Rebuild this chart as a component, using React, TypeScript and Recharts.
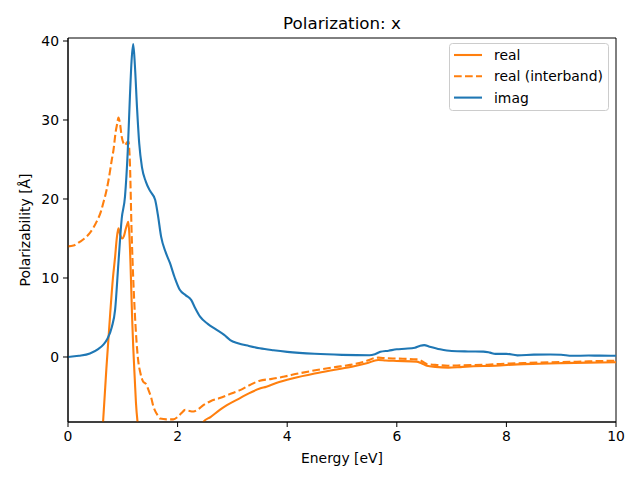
import React from 'react';
import { LineChart, Line, XAxis, YAxis, Legend, ReferenceArea, Label } from 'recharts';

const imagE = [0, 0.2, 0.4, 0.55, 0.65, 0.72, 0.8, 0.86, 0.92, 0.98, 1.04, 1.09, 1.13, 1.16, 1.19, 1.22, 1.26, 1.3, 1.35, 1.42, 1.5, 1.59, 1.64, 1.7, 1.78, 1.86, 1.95, 2.04, 2.15, 2.25, 2.32, 2.41, 2.55, 2.7, 2.85, 2.96, 3.1, 3.3, 3.5, 3.75, 4.0, 4.5, 5.0, 5.5, 5.6, 5.7, 5.85, 6.0, 6.15, 6.33, 6.42, 6.5, 6.6, 6.79, 7.0, 7.3, 7.58, 7.7, 7.8, 8.0, 8.2, 8.5, 8.8, 9.0, 9.2, 9.5, 9.7, 10];
const imagV = [0, 0.15, 0.45, 1.0, 1.6, 2.3, 3.8, 6.0, 11.9, 17.5, 20.3, 26, 33, 37.5, 39.6, 37, 31.5, 27, 24, 22.2, 21, 19.9, 18, 15.2, 13.3, 11.9, 10, 8.5, 7.8, 7.2, 6.2, 5.1, 4.2, 3.5, 2.8, 2.15, 1.75, 1.4, 1.1, 0.85, 0.65, 0.4, 0.27, 0.22, 0.35, 0.65, 0.8, 0.97, 1.05, 1.18, 1.4, 1.5, 1.3, 0.97, 0.75, 0.7, 0.68, 0.55, 0.4, 0.4, 0.21, 0.3, 0.32, 0.28, 0.15, 0.18, 0.17, 0.15];

const realE = [0.55, 0.64, 0.7, 0.77, 0.82, 0.86, 0.89, 0.92, 0.95, 0.99, 1.02, 1.05, 1.08, 1.1, 1.12, 1.14, 1.17, 1.19, 1.22, 1.24, 1.28, 1.32, 1.4, 1.55, 1.8, 2.1, 2.35, 2.47, 2.6, 2.77, 2.9, 3.14, 3.3, 3.5, 3.62, 3.8, 4.11, 4.5, 4.84, 5.2, 5.45, 5.66, 5.8, 6.0, 6.36, 6.45, 6.55, 6.7, 6.94, 7.2, 7.58, 7.8, 8.2, 8.6, 9.0, 9.5, 10];
const realV = [-16, -8.2, -1.5, 5.5, 10, 12.7, 15, 16.3, 15.5, 15.0, 15.3, 16.1, 16.8, 17.1, 15.5, 11.9, 5, 1.3, -3, -5.8, -9, -12, -14, -15, -14, -12, -10, -8.2, -7.6, -6.7, -6.1, -5.2, -4.6, -4.0, -3.76, -3.3, -2.7, -2.1, -1.65, -1.2, -0.8, -0.38, -0.45, -0.5, -0.59, -0.8, -1.1, -1.25, -1.35, -1.25, -1.14, -1.1, -0.93, -0.85, -0.78, -0.72, -0.67];

const interE = [0, 0.1, 0.22, 0.3, 0.4, 0.52, 0.6, 0.64, 0.7, 0.74, 0.8, 0.83, 0.87, 0.9, 0.92, 0.95, 0.98, 1.01, 1.04, 1.07, 1.1, 1.13, 1.16, 1.19, 1.22, 1.25, 1.28, 1.32, 1.37, 1.42, 1.47, 1.52, 1.56, 1.62, 1.68, 1.8, 1.92, 2.0, 2.07, 2.14, 2.2, 2.29, 2.38, 2.47, 2.6, 2.77, 2.95, 3.14, 3.32, 3.5, 3.7, 3.93, 4.2, 4.54, 4.85, 5.15, 5.4, 5.66, 5.8, 6.0, 6.36, 6.45, 6.55, 6.7, 6.94, 7.2, 7.58, 7.8, 8.2, 8.6, 9.0, 9.5, 10];
const interV = [14.0, 14.1, 14.6, 15.0, 15.7, 17.1, 18.4, 19.4, 21, 22.4, 25, 26.2, 28.5, 29.6, 30.3, 29.5, 27.9, 27.1, 26.8, 27.1, 27.3, 24.5, 16, 10, 5.5, 2, -0.4, -2, -3.1, -3.4, -4.2, -5.2, -6.3, -7.2, -7.8, -7.9, -7.9, -7.6, -7.1, -6.7, -6.8, -6.9, -6.6, -6.1, -5.6, -5.2, -4.7, -4.2, -3.54, -3.0, -2.8, -2.5, -2.1, -1.65, -1.3, -1.0, -0.6, -0.08, -0.15, -0.2, -0.3, -0.5, -0.9, -1.0, -1.1, -1.05, -1.0, -0.9, -0.8, -0.7, -0.65, -0.55, -0.47];

const xTicks = [0, 2, 4, 6, 8, 10];
const yTicks = [0, 10, 20, 30, 40];

const toData = (e: number[], v: number[]) => e.map((x, i) => ({ e: x, v: v[i] }));
const realData = toData(realE, realV);
const interData = toData(interE, interV);
const imagData = toData(imagE, imagV);

const ORANGE = '#ff7f0e';
const BLUE = '#1f77b4';
const FONT = '"DejaVu Sans", sans-serif';
const Y_MIN = -8.23;
const Y_MAX = 40.38;

const legendItems = [
  { label: 'real', color: ORANGE, dash: undefined as string | undefined },
  { label: 'real (interband)', color: ORANGE, dash: '7.7 3.3' },
  { label: 'imag', color: BLUE, dash: undefined as string | undefined },
];

const LegendBox = () => (
  <svg width={161} height={69} style={{ display: 'block', fontFamily: FONT }}>
    <rect x={0.5} y={0.5} width={159} height={67} rx={3} ry={3} fill="rgba(255,255,255,0.8)" stroke="#cccccc" strokeWidth={1} />
    {legendItems.map((it, i) => (
      <g key={it.label}>
        <line x1={5} x2={33} y1={12 + i * 21.3} y2={12 + i * 21.3} stroke={it.color} strokeWidth={2.1} strokeDasharray={it.dash} />
        <text x={45} y={12 + i * 21.3} dominantBaseline="central" fontSize={13.9} fill="#000">{it.label}</text>
      </g>
    ))}
  </svg>
);

export default function App() {
  return (
    <div style={{ position: 'absolute', left: 0, top: 0, width: 640, height: 480, background: '#fff' }}>
      <div style={{ position: 'absolute', left: 68, width: 548, top: 13, textAlign: 'center', fontFamily: FONT, fontSize: 16.7, color: '#000', lineHeight: '20px' }}>
        Polarization: x
      </div>
      <LineChart width={640} height={480} margin={{ top: 38, right: 24, bottom: 0, left: 0 }} style={{ fontFamily: FONT }}>
        <XAxis
          type="number"
          dataKey="e"
          domain={[0, 10]}
          ticks={xTicks}
          allowDataOverflow
          height={58}
          tickSize={5}
          tickMargin={4}
          axisLine={{ stroke: '#000', strokeWidth: 1 }}
          tickLine={{ stroke: '#000', strokeWidth: 1 }}
          tick={{ fill: '#000', fontSize: 13.9, fontFamily: FONT }}
        >
          <Label
            content={() => (
              <text x={342} y={458} textAnchor="middle" dominantBaseline="central" fontSize={13.9} fontFamily={FONT} fill="#000">Energy [eV]</text>
            )}
          />
        </XAxis>
        <YAxis
          type="number"
          domain={[Y_MIN, Y_MAX]}
          ticks={yTicks}
          allowDataOverflow
          width={68}
          tickSize={5}
          tickMargin={4}
          axisLine={{ stroke: '#000', strokeWidth: 1 }}
          tickLine={{ stroke: '#000', strokeWidth: 1 }}
          tick={{ fill: '#000', fontSize: 13.9, fontFamily: FONT }}
        >
          <Label
            content={() => (
              <text x={25} y={230} transform="rotate(-90 25 230)" textAnchor="middle" dominantBaseline="central" fontSize={13.9} fontFamily={FONT} fill="#000">Polarizability [Å]</text>
            )}
          />
        </YAxis>
        <ReferenceArea x1={0} x2={10} y1={Y_MIN} y2={Y_MAX} fill="none" stroke="#000" strokeWidth={1} ifOverflow="extendDomain" />
        <Line data={realData} dataKey="v" name="real" type="monotone" stroke={ORANGE} strokeWidth={2.1} dot={false} isAnimationActive={false} />
        <Line data={interData} dataKey="v" name="real (interband)" type="monotone" stroke={ORANGE} strokeWidth={2.1} strokeDasharray="7.7 3.3" dot={false} isAnimationActive={false} />
        <Line data={imagData} dataKey="v" name="imag" type="monotone" stroke={BLUE} strokeWidth={2.1} dot={false} isAnimationActive={false} />
        <Legend
          layout="vertical"
          align="center"
          verticalAlign="middle"
          content={() => <LegendBox />}
          wrapperStyle={{ position: 'absolute', left: 449, top: 43, width: 161, height: 69 }}
        />
      </LineChart>
    </div>
  );
}
